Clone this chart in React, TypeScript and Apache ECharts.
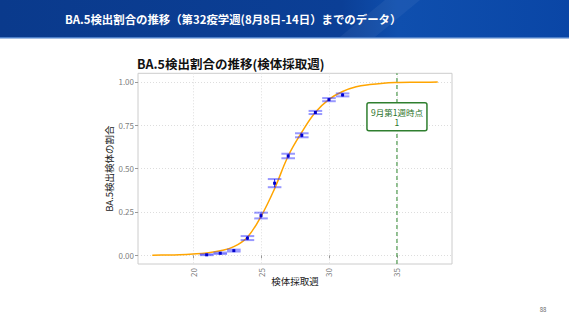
import React, { useEffect, useRef } from "react";
import * as echarts from "echarts";

const headerTitle = "BA.5検出割合の推移（第32疫学週(8月8日-14日）までのデータ）";
const plotTitle = "BA.5検出割合の推移(検体採取週)";
const xAxisTitle = "検体採取週";
const yAxisTitle = "BA.5検出検体の割合";
const annotationLines = ["9月第1週時点", "1"];
const pageNumber = "88";

const xTicks = [20, 25, 30, 35];
const yTicks = [0, 0.25, 0.5, 0.75, 1];
const markWeek = 35;
const markRange = [-0.05, 1.05];
const annotationY = 0.8;

const weeks = [21, 22, 23, 24, 25, 26, 27, 28, 29, 30, 31];
const proportion = [0.003, 0.012, 0.027, 0.099, 0.229, 0.416, 0.573, 0.692, 0.824, 0.898, 0.925];
const lowerCI = [0.001, 0.008, 0.022, 0.088, 0.213, 0.393, 0.56, 0.681, 0.815, 0.889, 0.917];
const upperCI = [0.006, 0.016, 0.033, 0.111, 0.246, 0.44, 0.586, 0.704, 0.833, 0.907, 0.934];

const fitWeeks = [17, 18, 19, 20, 21, 22, 23, 24, 25, 26, 27, 28, 29, 30, 31, 32, 33, 34, 35, 36, 37, 38];
const fitValues = [0.001, 0.002, 0.004, 0.008, 0.014, 0.026, 0.05, 0.105, 0.225, 0.385, 0.573, 0.71, 0.825, 0.9, 0.945, 0.972, 0.985, 0.993, 0.997, 0.999, 0.999, 1.0];

const FONT = '"Noto Sans CJK JP", "Noto Sans", sans-serif';

export default function App() {
  const ref = useRef<HTMLDivElement>(null);
  useEffect(() => {
    if (!ref.current) return;
    const chart = echarts.init(ref.current, null, { renderer: "svg" });
    const option: any = {
      animation: false,
      textStyle: { fontFamily: FONT },
      graphic: [
        {
          type: "rect",
          shape: { x: 0, y: 0, width: 569, height: 37 },
          style: {
            fill: new echarts.graphic.LinearGradient(0, 0, 1, 0, [
              { offset: 0, color: "#0a3a8c" },
              { offset: 0.6, color: "#0b3f96" },
              { offset: 0.7, color: "#0f4fae" },
              { offset: 1, color: "#0a46a6" },
            ]),
          },
          silent: true,
        },
        {
          type: "polygon",
          shape: { points: [[340, 37], [385, 0], [420, 0], [375, 37]] },
          style: { fill: "rgba(255,255,255,0.05)" },
          silent: true,
        },
        {
          type: "rect",
          shape: { x: 0, y: 37, width: 569, height: 1.5 },
          style: { fill: "#4d7fc8" },
          silent: true,
        },
        {
          type: "text",
          x: 65,
          y: 19,
          style: {
            text: headerTitle,
            fill: "#ffffff",
            font: `bold 11.4px ${FONT}`,
            textVerticalAlign: "middle",
            textAlign: "left",
          },
        },
        {
          type: "text",
          x: 137,
          y: 63,
          style: {
            text: plotTitle,
            fill: "#111111",
            font: `bold 12.5px ${FONT}`,
            textVerticalAlign: "middle",
            textAlign: "left",
          },
        },
        {
          type: "text",
          x: 543,
          y: 309,
          style: {
            text: pageNumber,
            fill: "#666666",
            font: `6px ${FONT}`,
            textVerticalAlign: "middle",
            textAlign: "center",
          },
        },
      ],
      grid: {
        left: 138,
        top: 73.3,
        right: 117,
        bottom: 56,
        show: true,
        borderColor: "#cccccc",
        borderWidth: 1,
        backgroundColor: "#ffffff",
      },
      xAxis: {
        type: "value",
        min: 15.95,
        max: 39.05,
        name: xAxisTitle,
        nameLocation: "middle",
        nameGap: 12,
        nameMoveOverlap: false,
        nameTextStyle: { color: "#222222", fontSize: 9.5, fontFamily: FONT },
        axisLine: { show: false },
        axisTick: { show: true, length: 3, customValues: xTicks, lineStyle: { color: "#999999" } },
        axisLabel: {
          customValues: xTicks,
          rotate: 90,
          color: "#808080",
          fontSize: 8,
          margin: 4,
          fontFamily: FONT,
        },
        splitLine: { show: true, lineStyle: { color: "#dddddd", type: [1, 2], width: 1 } },
      },
      yAxis: {
        type: "value",
        min: -0.05,
        max: 1.05,
        name: yAxisTitle,
        nameLocation: "middle",
        nameGap: 24,
        nameMoveOverlap: false,
        nameRotate: 90,
        nameTextStyle: { color: "#222222", fontSize: 9.5, fontFamily: FONT },
        axisLine: { show: false },
        axisTick: { show: true, length: 3, customValues: yTicks, lineStyle: { color: "#999999" } },
        axisLabel: {
          customValues: yTicks,
          color: "#808080",
          fontSize: 8,
          margin: 4,
          fontFamily: FONT,
          formatter: (v: number) => v.toFixed(2),
        },
        splitLine: { show: true, lineStyle: { color: "#dddddd", type: [1, 2], width: 1 } },
      },
      series: [
        {
          type: "line",
          data: markRange.map((v) => [markWeek, v]),
          showSymbol: false,
          silent: true,
          lineStyle: { color: "#4f9a4f", type: [4, 3], width: 1.2 },
          z: 1,
        },
        {
          type: "line",
          data: fitWeeks.map((w, i) => [w, fitValues[i]]),
          smooth: 0.4,
          showSymbol: false,
          lineStyle: { color: "#FFA500", width: 1.5 },
          z: 2,
        },
        {
          type: "custom",
          data: weeks.map((w, i) => [w, proportion[i], lowerCI[i], upperCI[i]]),
          encode: { x: 0, y: [1, 2, 3] },
          z: 3,
          renderItem: (params: any, api: any) => {
            const x = api.value(0);
            const y = api.value(1);
            const lo = api.value(2);
            const hi = api.value(3);
            const pLoL = api.coord([x - 0.5, lo]);
            const pLoR = api.coord([x + 0.5, lo]);
            const pHiL = api.coord([x - 0.5, hi]);
            const pHiR = api.coord([x + 0.5, hi]);
            const pLo = api.coord([x, lo]);
            const pHi = api.coord([x, hi]);
            const p = api.coord([x, y]);
            return {
              type: "group",
              children: [
                {
                  type: "line",
                  shape: { x1: pLoL[0], y1: pLoL[1], x2: pLoR[0], y2: pLoR[1] },
                  style: { stroke: "rgba(50,50,255,0.5)", lineWidth: 2 },
                },
                {
                  type: "line",
                  shape: { x1: pHiL[0], y1: pHiL[1], x2: pHiR[0], y2: pHiR[1] },
                  style: { stroke: "rgba(50,50,255,0.5)", lineWidth: 2 },
                },
                {
                  type: "line",
                  shape: { x1: pLo[0], y1: pLo[1], x2: pHi[0], y2: pHi[1] },
                  style: { stroke: "#1a1aff", lineWidth: 1 },
                },
                {
                  type: "rect",
                  shape: { x: p[0] - 1.5, y: p[1] - 1.5, width: 3, height: 3 },
                  style: { fill: "#0000cc" },
                },
              ],
            };
          },
        },
        {
          type: "custom",
          data: [[markWeek, annotationY]],
          encode: { x: 0, y: 1 },
          z: 10,
          silent: true,
          renderItem: (params: any, api: any) => {
            const p = api.coord([api.value(0), api.value(1)]);
            return {
              type: "group",
              children: [
                {
                  type: "rect",
                  shape: { x: p[0] - 30, y: p[1] - 14, width: 60, height: 28, r: 2 },
                  style: { fill: "#ffffff", stroke: "#2f7f2f", lineWidth: 1.5 },
                  z2: 1,
                },
                {
                  type: "text",
                  x: p[0],
                  y: p[1] - 5,
                  style: {
                    text: annotationLines[0],
                    fill: "#2a732a",
                    font: `8.5px ${FONT}`,
                    textAlign: "center",
                    textVerticalAlign: "middle",
                  },
                  z2: 2,
                },
                {
                  type: "text",
                  x: p[0],
                  y: p[1] + 5.8,
                  style: {
                    text: annotationLines[1],
                    fill: "#2a732a",
                    font: `8.5px ${FONT}`,
                    textAlign: "center",
                    textVerticalAlign: "middle",
                  },
                  z2: 2,
                },
              ],
            };
          },
        },
      ],
    };
    chart.setOption(option);
    return () => chart.dispose();
  }, []);
  return (
    <div style={{ position: "fixed", left: 0, top: 0, width: 569, height: 320, background: "#ffffff" }}>
      <div ref={ref} style={{ width: 569, height: 320 }} />
    </div>
  );
}
